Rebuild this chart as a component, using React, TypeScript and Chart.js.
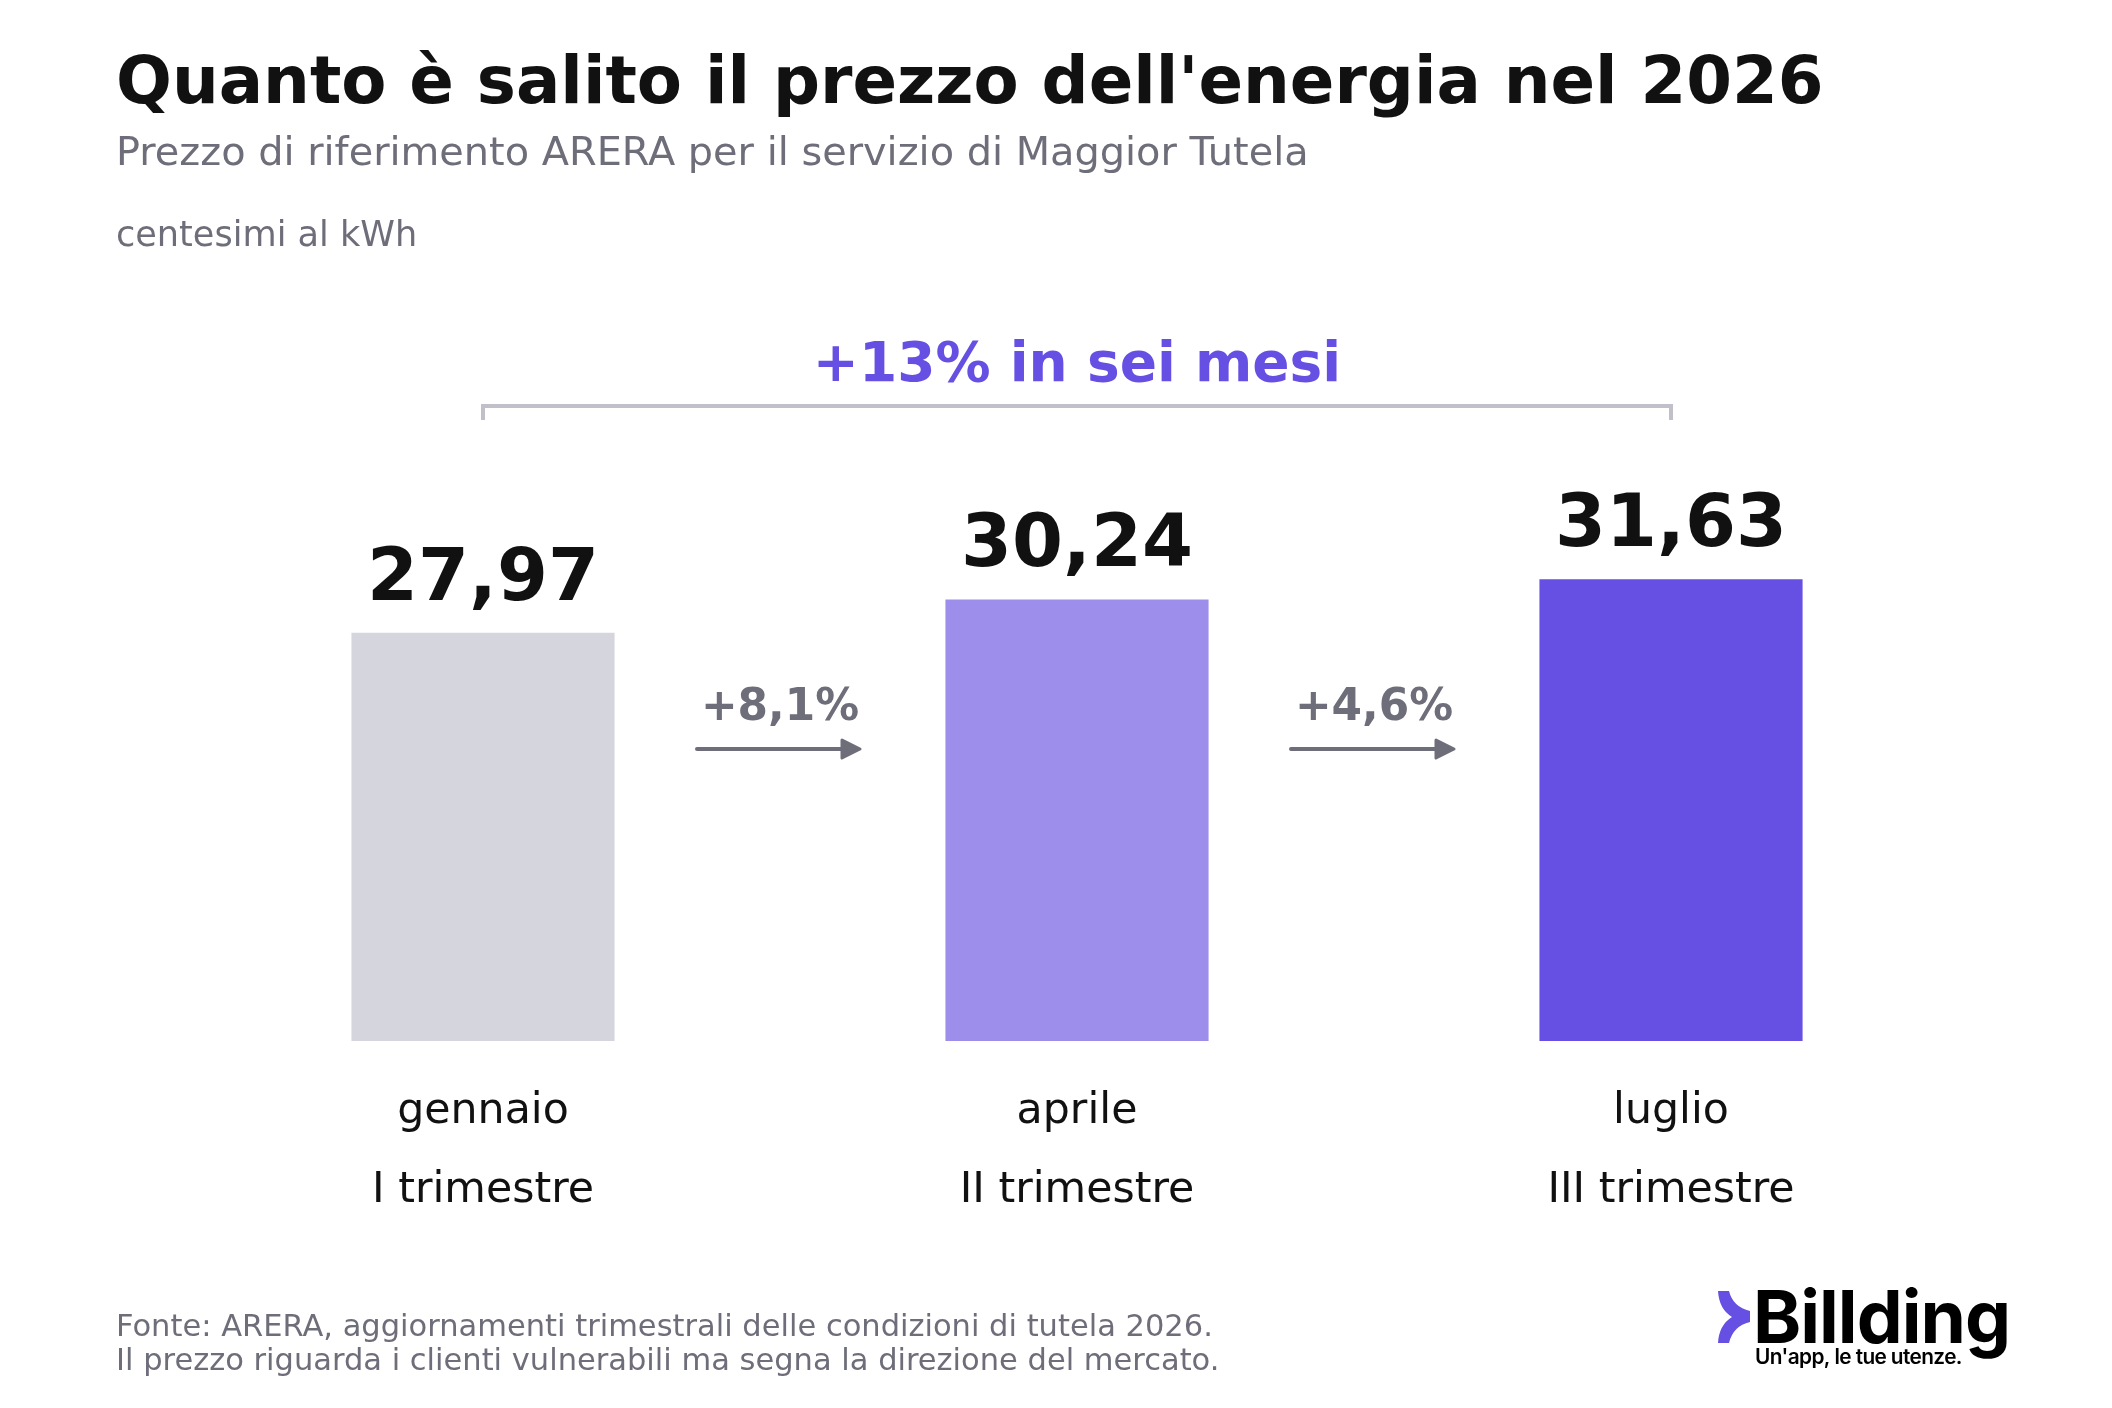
import React, { useEffect, useRef } from 'react';
import { Chart, registerables, Plugin } from 'chart.js';

Chart.register(...registerables);

const FONT = '"DejaVu Sans"';
const INK = '#111111';
const GREY = '#6e6e7a';
const PURPLE = '#6650e3';

const months = ['gennaio', 'aprile', 'luglio'];
const quarters = ['I trimestre', 'II trimestre', 'III trimestre'];
const prices = [27.97, 30.24, 31.63];
const priceLabels = ['27,97', '30,24', '31,63'];
const barColors = ['#d5d5de', '#9e8eeb', PURPLE];
const stepLabels = ['+8,1%', '+4,6%'];
const spanLabel = '+13% in sei mesi';
const footnotes = [
    'Fonte: ARERA, aggiornamenti trimestrali delle condizioni di tutela 2026.',
    'Il prezzo riguarda i clienti vulnerabili ma segna la direzione del mercato.',
];

// Everything that is not a bar or an axis label: headings, annotations, footer, logo.
const overlayPlugin: Plugin<'bar'> = {
    id: 'overlay',
    afterDraw(chart) {
        const { ctx } = chart;
        const x = chart.scales.x;
        const y = chart.scales.y;
        const text = (s: string, px: number, py: number, font: string, color: string, align: CanvasTextAlign = 'left') => {
            ctx.font = font;
            ctx.fillStyle = color;
            ctx.textAlign = align;
            ctx.textBaseline = 'alphabetic';
            ctx.fillText(s, px, py);
        };

        ctx.save();
        text('Quanto è salito il prezzo dell\'energia nel 2026', 116, 103, `bold 65.75px ${FONT}`, INK);
        text('Prezzo di riferimento ARERA per il servizio di Maggior Tutela', 116, 164.5, `39.85px ${FONT}`, GREY);
        text('centesimi al kWh', 116, 246, `35.1px ${FONT}`, GREY);

        // values above the bars
        prices.forEach((v, i) => {
            text(priceLabels[i], x.getPixelForValue(i), y.getPixelForValue(v) - 33, `bold 73.3px ${FONT}`, INK, 'center');
        });

        // bracket from first to last bar
        const x0 = x.getPixelForValue(0);
        const x2 = x.getPixelForValue(2);
        ctx.strokeStyle = '#c0bfca';
        ctx.lineWidth = 4;
        ctx.beginPath();
        ctx.moveTo(x0, 420);
        ctx.lineTo(x0, 406);
        ctx.lineTo(x2, 406);
        ctx.lineTo(x2, 420);
        ctx.stroke();
        text(spanLabel, (x0 + x2) / 2, 381, `bold 55px ${FONT}`, PURPLE, 'center');

        // step arrows between bars
        stepLabels.forEach((label, i) => {
            const mid = (x.getPixelForValue(i) + x.getPixelForValue(i + 1)) / 2;
            text(label, mid, 720, `bold 43.8px ${FONT}`, GREY, 'center');
            ctx.strokeStyle = GREY;
            ctx.lineWidth = 4;
            ctx.lineCap = 'round';
            ctx.beginPath();
            ctx.moveTo(mid - 83, 749);
            ctx.lineTo(mid + 62, 749);
            ctx.stroke();
            ctx.fillStyle = GREY;
            ctx.lineJoin = 'round';
            ctx.lineWidth = 3;
            ctx.beginPath();
            ctx.moveTo(mid + 62, 740);
            ctx.lineTo(mid + 80, 749);
            ctx.lineTo(mid + 62, 758);
            ctx.closePath();
            ctx.fill();
            ctx.stroke();
        });

        footnotes.forEach((line, i) => {
            text(line, 116, 1336 + i * 34, `30.5px ${FONT}`, GREY);
        });

        // logo
        ctx.fillStyle = PURPLE;
        ctx.beginPath();
        ctx.moveTo(1718, 1291);
        ctx.lineTo(1729, 1291);
        ctx.quadraticCurveTo(1733, 1307, 1750, 1311);
        ctx.lineTo(1750, 1322);
        ctx.quadraticCurveTo(1733, 1326, 1729, 1343);
        ctx.lineTo(1718, 1343);
        ctx.quadraticCurveTo(1719, 1325, 1732, 1317);
        ctx.quadraticCurveTo(1719, 1309, 1718, 1291);
        ctx.closePath();
        ctx.fill();
        (ctx as any).letterSpacing = '-1px';
        text('Billding', 1753, 1343, 'bold 73px Inter', '#000000');
        (ctx as any).letterSpacing = '-0.6px';
        text('Un\'app, le tue utenze.', 1755, 1364, '600 20.8px Inter', '#000000');
        (ctx as any).letterSpacing = '0px';
        ctx.restore();
    },
};

const App: React.FC = () => {
    const canvasRef = useRef<HTMLCanvasElement>(null);

    useEffect(() => {
        if (!canvasRef.current) return;
        const chart = new Chart(canvasRef.current, {
            type: 'bar',
            data: {
                labels: months.map((m, i) => [m, quarters[i]]),
                datasets: [{
                    data: prices,
                    backgroundColor: barColors,
                    barPercentage: 0.443,
                    categoryPercentage: 1,
                }],
            },
            options: {
                responsive: false,
                animation: false,
                devicePixelRatio: 1,
                layout: { padding: { left: 186, right: 144, top: 457, bottom: 0 } },
                plugins: { legend: { display: false }, tooltip: { enabled: false } },
                scales: {
                    x: {
                        // reserve the room under the baseline for footer and logo
                        afterFit: (scale) => { scale.height = 367; },
                        grid: { display: false },
                        border: { display: false },
                        ticks: {
                            color: INK,
                            padding: 23,
                            maxRotation: 0,
                            font: { family: FONT, size: 42.7, lineHeight: 1.85 },
                        },
                    },
                    y: { display: false, min: 0, max: 40 },
                },
            },
            plugins: [overlayPlugin],
        });
        return () => chart.destroy();
    }, []);

    return (
        <div style={{ position: 'fixed', left: 0, top: 0, width: 2112, height: 1408, background: '#ffffff' }}>
            <canvas ref={canvasRef} width={2112} height={1408} style={{ display: 'block' }}></canvas>
        </div>
    );
};

export default App;
